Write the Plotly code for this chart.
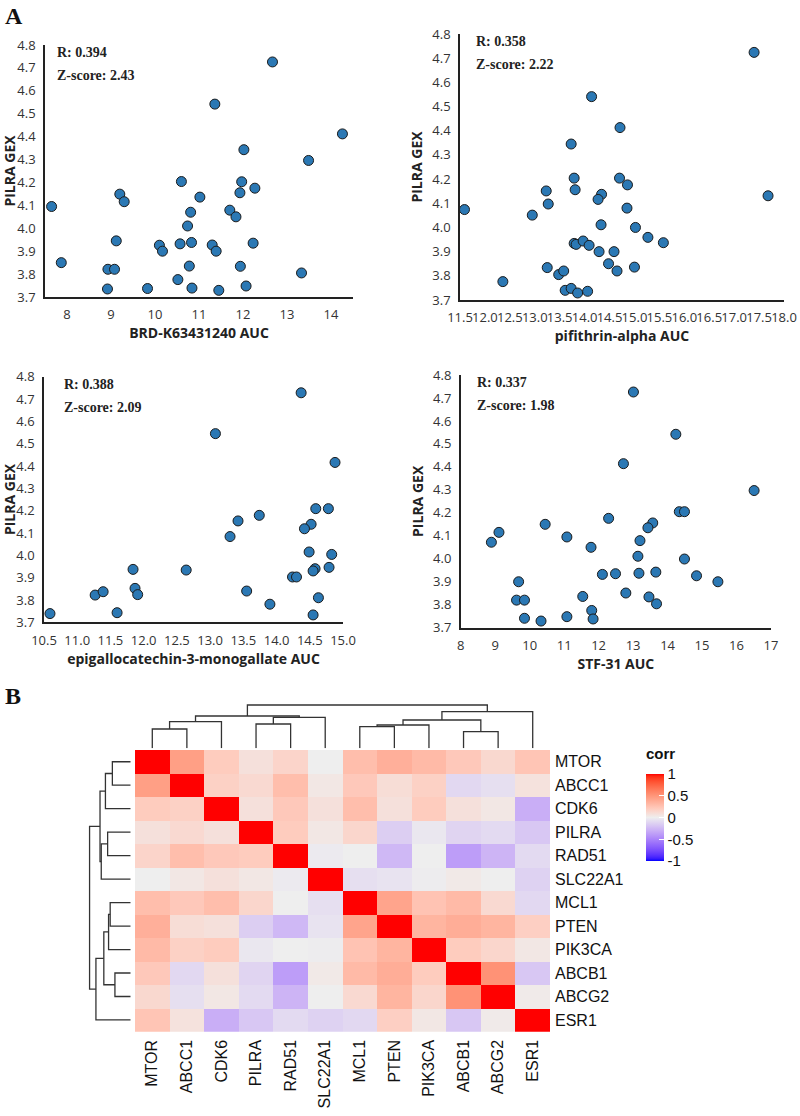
import plotly.graph_objects as go

W, H = 800, 1116

# ---------------- data ----------------
gex_label = "PILRA GEX"

brd_auc = [12.67, 11.36, 14.26, 12.02, 13.49, 10.60, 11.97, 12.27, 11.93, 9.20, 9.30, 11.02, 7.65, 11.70, 10.81,
           11.84, 10.74, 9.12, 10.10, 10.17, 10.57, 10.83, 11.30, 11.39, 12.23, 7.87, 8.93, 9.08, 10.78, 11.94,
           13.33, 10.52, 8.92, 9.83, 10.84, 11.45, 12.07]
brd_gex = [4.726, 4.542, 4.412, 4.343, 4.296, 4.204, 4.203, 4.175, 4.155, 4.149, 4.116, 4.136, 4.095, 4.079, 4.070,
           4.050, 4.010, 3.945, 3.926, 3.900, 3.932, 3.938, 3.927, 3.900, 3.935, 3.850, 3.821, 3.821, 3.835, 3.834,
           3.805, 3.776, 3.735, 3.737, 3.739, 3.729, 3.748]

pif_auc = [17.40, 14.14, 14.71, 13.73, 13.79, 14.70, 14.86, 13.81, 13.23, 14.34, 14.27, 17.68, 13.27, 11.59, 14.85,
           12.95, 14.33, 15.02, 15.27, 15.58, 13.79, 13.83, 13.97, 14.09, 14.29, 14.59, 13.25, 13.48, 13.58, 14.48,
           14.65, 15.00, 12.36, 13.61, 13.73, 13.86, 14.06]
pif_gex = [4.724, 4.541, 4.413, 4.345, 4.204, 4.204, 4.176, 4.156, 4.151, 4.137, 4.116, 4.131, 4.097, 4.074, 4.080,
           4.051, 4.011, 4.000, 3.959, 3.937, 3.934, 3.930, 3.944, 3.926, 3.900, 3.900, 3.834, 3.805, 3.820, 3.850,
           3.820, 3.836, 3.776, 3.740, 3.748, 3.729, 3.736]

egc_auc = [14.37, 13.08, 14.88, 14.59, 14.78, 13.74, 13.42, 14.52, 14.42, 13.30, 14.49, 14.83, 11.84, 12.64, 14.58,
           14.55, 14.79, 14.24, 14.30, 11.27, 11.39, 11.87, 11.91, 13.55, 14.63, 13.90, 10.59, 11.60, 14.55]
egc_gex = [4.728, 4.545, 4.416, 4.209, 4.209, 4.179, 4.154, 4.139, 4.119, 4.084, 4.015, 4.004, 3.937, 3.934, 3.940,
           3.930, 3.946, 3.903, 3.903, 3.822, 3.837, 3.852, 3.824, 3.840, 3.810, 3.781, 3.739, 3.743, 3.733]

stf_auc = [13.01, 14.24, 12.72, 16.51, 14.34, 14.49, 12.29, 13.57, 13.43, 10.45, 9.11, 8.89, 11.08, 13.20, 11.78,
           13.14, 14.49, 12.11, 12.49, 13.17, 13.66, 14.84, 15.46, 9.68, 9.62, 9.85, 11.54, 12.79, 13.46, 13.68,
           11.80, 9.85, 10.33, 11.08, 11.84]
stf_gex = [4.726, 4.542, 4.414, 4.297, 4.205, 4.205, 4.176, 4.156, 4.135, 4.150, 4.115, 4.072, 4.095, 4.079, 4.050,
           4.011, 3.999, 3.932, 3.935, 3.937, 3.942, 3.926, 3.900, 3.900, 3.820, 3.820, 3.836, 3.851, 3.834, 3.804,
           3.775, 3.741, 3.729, 3.748, 3.738]

drug_titles = ["BRD-K63431240 AUC", "pifithrin-alpha AUC", "epigallocatechin-3-monogallate AUC", "STF-31 AUC"]
r_values = ["0.394", "0.358", "0.388", "0.337"]
z_scores = ["2.43", "2.22", "2.09", "1.98"]
x_ranges = [[7.5, 14.5], [11.5, 18.0], [10.5, 15.0], [8, 17]]
x_dticks = [1, 0.5, 0.5, 1]
x_formats = ["d", ".1f", ".1f", "d"]
y_range = [3.7, 4.8]

genes = ["MTOR", "ABCC1", "CDK6", "PILRA", "RAD51", "SLC22A1", "MCL1", "PTEN", "PIK3CA", "ABCB1", "ABCG2", "ESR1"]
corr = [
    [1.00, 0.45, 0.20, 0.08, 0.15, 0.00, 0.28, 0.36, 0.30, 0.22, 0.13, 0.24],
    [0.45, 1.00, 0.17, 0.12, 0.28, 0.04, 0.22, 0.10, 0.17, -0.10, -0.07, 0.07],
    [0.20, 0.17, 1.00, 0.08, 0.22, 0.08, 0.28, 0.08, 0.20, 0.08, 0.04, -0.30],
    [0.08, 0.12, 0.08, 1.00, 0.20, 0.04, 0.14, -0.15, -0.03, -0.12, -0.09, -0.18],
    [0.15, 0.28, 0.22, 0.20, 1.00, -0.02, 0.00, -0.25, 0.00, -0.38, -0.27, -0.09],
    [0.00, 0.04, 0.08, 0.04, -0.02, 1.00, -0.07, -0.05, -0.01, 0.03, 0.00, -0.13],
    [0.28, 0.22, 0.28, 0.14, 0.00, -0.07, 1.00, 0.42, 0.25, 0.30, 0.12, -0.10],
    [0.36, 0.10, 0.08, -0.15, -0.25, -0.05, 0.42, 1.00, 0.33, 0.37, 0.33, 0.18],
    [0.30, 0.17, 0.20, -0.03, 0.00, -0.01, 0.25, 0.33, 1.00, 0.20, 0.14, 0.04],
    [0.22, -0.10, 0.08, -0.12, -0.38, 0.03, 0.30, 0.37, 0.20, 1.00, 0.52, -0.18],
    [0.13, -0.07, 0.04, -0.09, -0.27, 0.00, 0.12, 0.33, 0.14, 0.52, 1.00, 0.02],
    [0.24, 0.07, -0.30, -0.18, -0.09, -0.13, -0.10, 0.18, 0.04, -0.18, 0.02, 1.00],
]
# hierarchical clustering merges: (child a, child b, height); leaves are 0..11, new clusters 12..
merges = [
    (0, 1, 19.3), (12, 2, 26.6), (3, 4, 24.3), (14, 5, 31.0), (13, 15, 32.3),
    (6, 7, 21.6), (17, 8, 23.3), (9, 10, 16.6), (18, 19, 28.3), (20, 11, 36.6), (16, 21, 43.3),
]
cbar_ticks = [-1, -0.5, 0, 0.5, 1]
cbar_text = ["-1", "-0.5", "0", "0.5", "1"]

# ---------------- helpers ----------------
def xd(a, b):
    return [a / W, b / W]

def yd(top, bottom):
    return [1 - bottom / H, 1 - top / H]


def _lin(c):
    c = c / 255.0
    return c / 12.92 if c <= 0.04045 else ((c + 0.055) / 1.055) ** 2.4


def _gam(c):
    c = 12.92 * c if c <= 0.0031308 else 1.055 * c ** (1 / 2.4) - 0.055
    return max(0, min(255, round(c * 255)))


def rgb2lab(rgb):
    r, g, b = [_lin(c) for c in rgb]
    X = (0.4124 * r + 0.3576 * g + 0.1805 * b) / 0.95047
    Y = (0.2126 * r + 0.7152 * g + 0.0722 * b)
    Z = (0.0193 * r + 0.1192 * g + 0.9505 * b) / 1.08883
    f = lambda t: t ** (1 / 3) if t > 0.008856 else 7.787 * t + 16 / 116
    fx, fy, fz = f(X), f(Y), f(Z)
    return (116 * fy - 16, 500 * (fx - fy), 200 * (fy - fz))


def lab2rgb(lab):
    L, a, b = lab
    fy = (L + 16) / 116
    fx = fy + a / 500
    fz = fy - b / 200
    fi = lambda t: t ** 3 if t ** 3 > 0.008856 else (t - 16 / 116) / 7.787
    X, Y, Z = fi(fx) * 0.95047, fi(fy), fi(fz) * 1.08883
    r = 3.2406 * X - 1.5372 * Y - 0.4986 * Z
    g = -0.9689 * X + 1.8758 * Y + 0.0415 * Z
    bb = 0.0557 * X - 0.2040 * Y + 1.0570 * Z
    return "rgb(%d,%d,%d)" % (_gam(max(r, 0)), _gam(max(g, 0)), _gam(max(bb, 0)))


low, mid, high = rgb2lab((0, 0, 255)), rgb2lab((238, 238, 238)), rgb2lab((255, 0, 0))
colorscale = []
N = 40
for i in range(N + 1):
    t = i / N
    if t <= 0.5:
        s = t / 0.5
        lab = tuple(low[k] + (mid[k] - low[k]) * s for k in range(3))
    else:
        s = (t - 0.5) / 0.5
        lab = tuple(mid[k] + (high[k] - mid[k]) * s for k in range(3))
    colorscale.append([t, lab2rgb(lab)])


def dendro_segments(merges, n_leaves):
    pos = {i: float(i) for i in range(n_leaves)}
    hgt = {i: 0.0 for i in range(n_leaves)}
    P, Hh = [], []
    for k, (a, b, h) in enumerate(merges):
        cid = n_leaves + k
        P += [pos[a], pos[a], pos[b], pos[b], None]
        Hh += [hgt[a], h, h, hgt[b], None]
        pos[cid] = (pos[a] + pos[b]) / 2
        hgt[cid] = h
    return P, Hh


# ---------------- figure ----------------
fig = go.Figure()

panels = [
    dict(x=brd_auc, y=brd_gex, xdom=(45, 353), ydom=(45, 297)),
    dict(x=pif_auc, y=pif_gex, xdom=(460, 784), ydom=(34, 300)),
    dict(x=egc_auc, y=egc_gex, xdom=(44, 343), ydom=(376.7, 622.3)),
    dict(x=stf_auc, y=stf_gex, xdom=(460.7, 771), ydom=(375, 627.7)),
]

tick_font = dict(family="Open Sans", size=13, color="#333333")
title_font = dict(family="Open Sans", size=14, color="#222222", weight="bold")
ann_font = dict(family="Liberation Serif", size=14, color="#222222", weight="bold")

annotations = []
for i, p in enumerate(panels):
    n = i + 1
    xa = "x" if n == 1 else "x%d" % n
    ya = "y" if n == 1 else "y%d" % n
    fig.add_trace(go.Scatter(
        x=p["x"], y=p["y"], mode="markers", xaxis=xa, yaxis=ya, cliponaxis=False,
        marker=dict(size=10, color="#2b78b4", line=dict(color="#1b1b1b", width=1)),
        showlegend=False, hoverinfo="x+y"))
    axis_common = dict(showline=True, linecolor="#222222", linewidth=1.5, showgrid=False, zeroline=False,
                       ticks="", tickfont=tick_font, ticklabelstandoff=5, automargin=False)
    fig.update_layout(**{
        ("xaxis" if n == 1 else "xaxis%d" % n): dict(
            axis_common, domain=xd(*p["xdom"]), anchor=ya, range=x_ranges[i],
            tick0=x_ranges[i][0] if x_dticks[i] == 0.5 else 0, dtick=x_dticks[i], tickformat=x_formats[i],
            tickangle=0, title=dict(text=drug_titles[i], font=title_font, standoff=4)),
        ("yaxis" if n == 1 else "yaxis%d" % n): dict(
            axis_common, domain=yd(*p["ydom"]), anchor=xa, range=y_range, dtick=0.1, tick0=3.7,
            tickformat=".1f", title=dict(text=gex_label, font=title_font, standoff=6)),
    })
    x0, top = p["xdom"][0], p["ydom"][0]
    left_off = [10, 14, 18, 14][i]
    annotations.append(dict(xref="paper", yref="paper", x=(x0 + left_off) / W, y=1 - (top + 7.5) / H,
                            text="R: " + r_values[i], showarrow=False, xanchor="left", yanchor="middle",
                            font=ann_font))
    annotations.append(dict(xref="paper", yref="paper", x=(x0 + left_off) / W, y=1 - (top + 30.5) / H,
                            text="Z-score: " + z_scores[i], showarrow=False, xanchor="left", yanchor="middle",
                            font=ann_font))

for lab, yy in (("A", 1), ("B", 681)):
    annotations.append(dict(xref="paper", yref="paper", x=3 / W, y=1 - yy / H, text=lab, showarrow=False,
                            xanchor="left", yanchor="top",
                            font=dict(family="Liberation Serif", size=24, color="#111111", weight="bold")))

# colorbar title (placed as text above the bar)
annotations.append(dict(xref="paper", yref="paper", x=644 / W, y=1 - 753 / H, text="corr", showarrow=False,
                        xanchor="left", yanchor="middle",
                        font=dict(family="Liberation Sans", size=15, color="#111111", weight="bold")))

# heatmap
hm_x, hm_y = (135, 550), (750, 1031.7)
idx = list(range(len(genes)))
fig.add_trace(go.Heatmap(
    z=corr, x=idx, y=idx, xaxis="x5", yaxis="y5", zmin=-1, zmax=1, colorscale=colorscale,
    customdata=[[(genes[r], genes[c]) for c in idx] for r in idx],
    hovertemplate="%{customdata[0]} / %{customdata[1]}: %{z}<extra></extra>",
    colorbar=dict(
        x=646 / W, xanchor="left", xref="paper", y=1 - 774 / H, yanchor="top", yref="paper",
        thickness=18, thicknessmode="pixels", len=87, lenmode="pixels", outlinewidth=0,
        tickvals=cbar_ticks, ticktext=cbar_text, ticks="inside", ticklen=5, tickcolor="white",
        tickfont=dict(family="Liberation Sans", size=15, color="#111111"), ypad=0, xpad=0,
    ),
))
gene_font = dict(family="Liberation Sans", size=16, color="#111111")
fig.update_layout(
    xaxis5=dict(domain=xd(*hm_x), anchor="y5", range=[-0.5, len(genes) - 0.5], tickvals=idx, ticktext=genes,
                tickangle=-90, tickfont=gene_font, showgrid=False, zeroline=False, showline=False, ticks="",
                ticklabelstandoff=4, automargin=False),
    yaxis5=dict(domain=yd(*hm_y), anchor="x5", range=[len(genes) - 0.5, -0.5], tickvals=idx, ticktext=genes,
                side="right", tickfont=gene_font, showgrid=False, zeroline=False, showline=False, ticks="",
                ticklabelstandoff=4, automargin=False),
)

# dendrograms
P, Hh = dendro_segments(merges, len(genes))
fig.add_trace(go.Scatter(x=P, y=Hh, mode="lines", xaxis="x6", yaxis="y6", line=dict(color="#333333", width=1.3),
                         showlegend=False, hoverinfo="skip"))
fig.add_trace(go.Scatter(x=Hh, y=P, mode="lines", xaxis="x7", yaxis="y7", line=dict(color="#333333", width=1.3),
                         showlegend=False, hoverinfo="skip"))
fig.update_layout(
    xaxis6=dict(domain=xd(*hm_x), anchor="y6", range=[-0.5, len(genes) - 0.5], visible=False),
    yaxis6=dict(domain=yd(703.3, 748.3), anchor="x6", range=[0, 45], visible=False),
    xaxis7=dict(domain=xd(130.7 - 45 * 0.95, 130.7), anchor="y7", range=[45, 0], visible=False),
    yaxis7=dict(domain=yd(*hm_y), anchor="x7", range=[len(genes) - 0.5, -0.5], visible=False),
)

fig.update_layout(
    width=W, height=H, margin=dict(l=0, r=0, t=0, b=0, autoexpand=False), paper_bgcolor="white",
    plot_bgcolor="white", annotations=annotations, showlegend=False,
)

fig.write_html("out.html")
